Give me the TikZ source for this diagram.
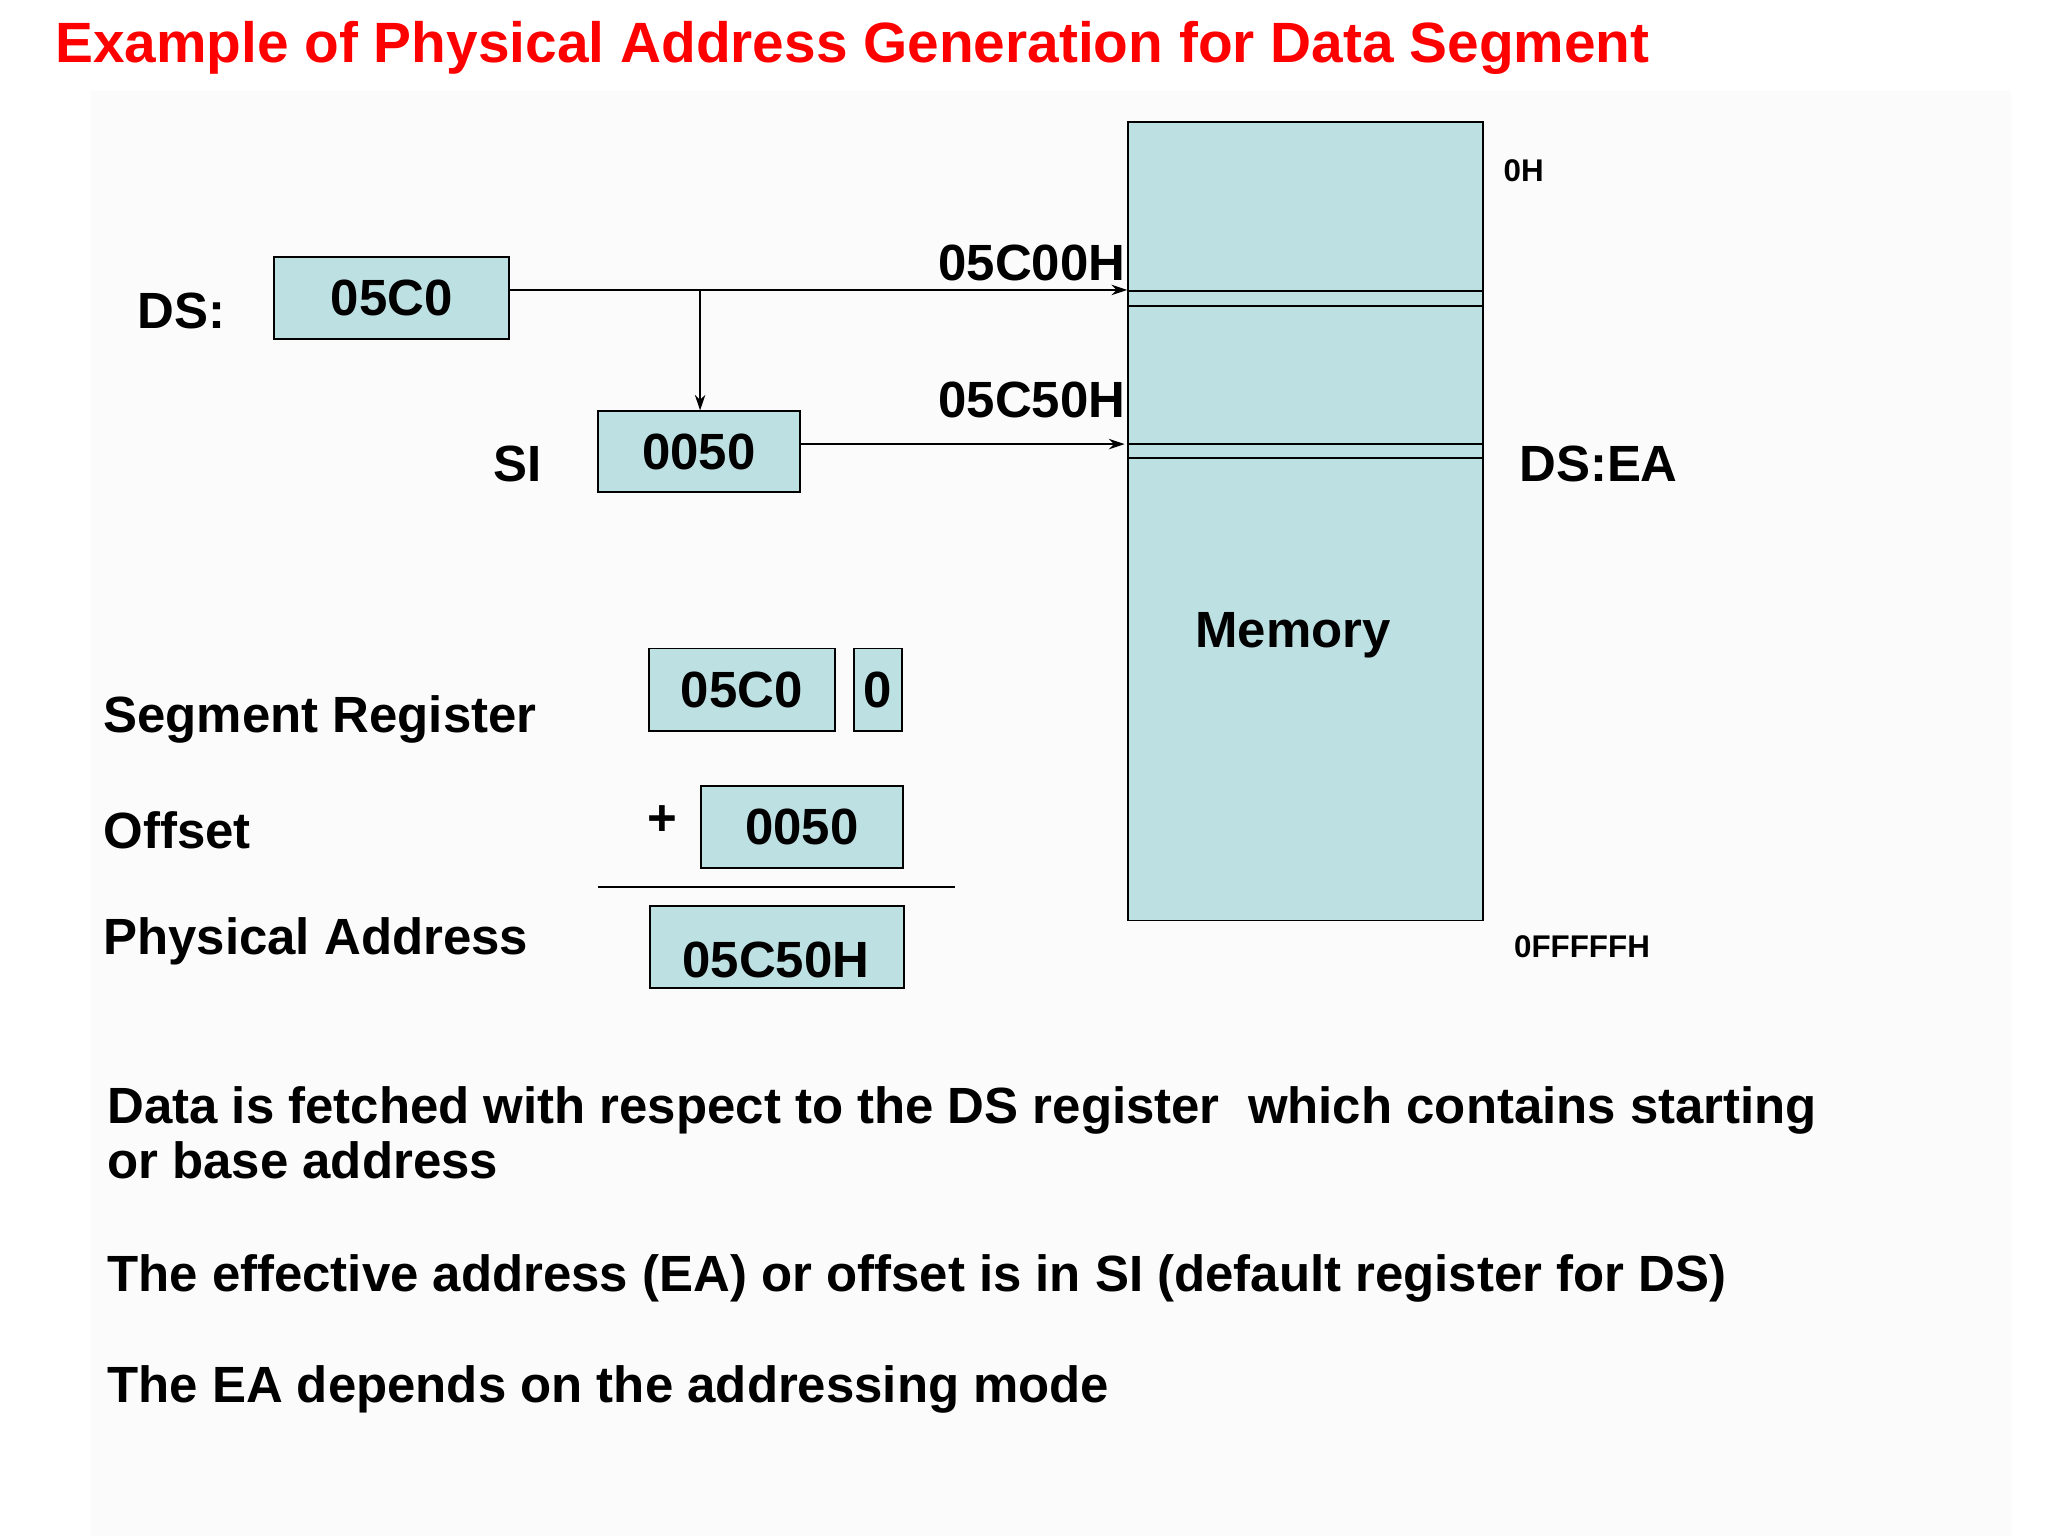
\documentclass[tikz,border=0pt]{standalone}
\usepackage{fontspec}
\setmainfont{Liberation Sans}
\usetikzlibrary{arrows.meta}
\begin{document}
\begin{tikzpicture}[x=1pt,y=-1pt,
 box/.style={draw=black,line width=1.5pt,fill=memc},
 lbl/.style={font=\fontsize{39}{43}\selectfont\bfseries,anchor=west,inner sep=0},
 sm/.style={font=\fontsize{24}{28}\selectfont\bfseries,anchor=west,inner sep=0},
 arr/.style={line width=1.5pt,-{Stealth[length=12pt,width=8pt]}}]
\definecolor{memc}{HTML}{BDE0E3}
\useasboundingbox (0,0) rectangle (1568,1176);
\fill[white!98.5!black] (70,70) rectangle (1540,1176);
\node[font=\fontsize{43.5}{47}\selectfont\bfseries,text=red,anchor=west,inner sep=0] (title) at (42,37) {Example of Physical Address Generation for Data Segment};
% memory
\node[box,minimum width=272pt,minimum height=611pt,anchor=north west,inner sep=0] (mem) at (863,93) {};
\draw[line width=1.5pt] (863,223)--(1135,223) (863,234)--(1135,234) (863,340)--(1135,340) (863,351)--(1135,351);
\node[lbl,anchor=center] (memt) at (990,486) {Memory};
\node[sm] (oh) at (1151,131) {0H};
\node[sm] (of) at (1159,725) {0FFFFFH};
\node[lbl] (dsea) at (1163,355) {DS:EA};
\coordinate (m1) at (863,222);
\coordinate (m2) at (861,340);
% registers
\node[lbl] (dsl) at (105,238) {DS:};
\node[box,minimum width=180pt,minimum height=63pt,inner sep=0,font=\fontsize{39}{43}\selectfont\bfseries] (ds) at (300,228) {05C0};
\node[lbl] (sil) at (378,355) {SI};
\node[box,minimum width=155pt,minimum height=62pt,inner sep=0,font=\fontsize{39}{43}\selectfont\bfseries] (si) at (535,346) {0050};
\node[lbl,anchor=south] (a1) at (790,215) {05C00H};
\node[lbl,anchor=south] (a2) at (790,320) {05C50H};
\coordinate (br) at (536,222);
\draw[arr] (ds.east|-br) -- (m1);
\draw[arr] (br) -- (br|-si.north);
\draw[arr] (si.east|-m2) -- (m2);
% computation
\node[lbl] (sr) at (79,551) {Segment Register};
\node[lbl] (off) at (79,636) {Offset};
\node[lbl] (pa) at (79,721) {Physical Address};
\node[box,minimum width=142pt,minimum height=63pt,inner sep=0,font=\fontsize{39}{43}\selectfont\bfseries] (b1) at (568,528) {05C0};
\node[box,minimum width=37pt,minimum height=63pt,inner sep=0,font=\fontsize{39}{43}\selectfont\bfseries] (b2) at (672,528) {0};
\node[lbl,anchor=center] (plus) at (507,628) {+};
\node[box,minimum width=154pt,minimum height=63pt,inner sep=0,font=\fontsize{39}{43}\selectfont\bfseries] (b3) at (614,633) {0050};
\draw[line width=1.5pt] (458,679)--(731,679);
\node[box,minimum width=194pt,minimum height=63pt,anchor=north west,inner sep=0] (b4) at (497,693) {};
\node[lbl,anchor=center] (b4t) at (594,735) {05C50H};
% text
\node[lbl,anchor=north west,align=left,font=\fontsize{39}{42}\selectfont\bfseries] (t1) at (82,832) {Data is fetched with respect to the DS register\ \ which contains starting\\or base address};
\node[lbl] (t2) at (82,979) {The effective address (EA) or offset is in SI (default register for DS)};
\node[lbl] (t3) at (82,1064) {The EA depends on the addressing mode};
\end{tikzpicture}
\end{document}
